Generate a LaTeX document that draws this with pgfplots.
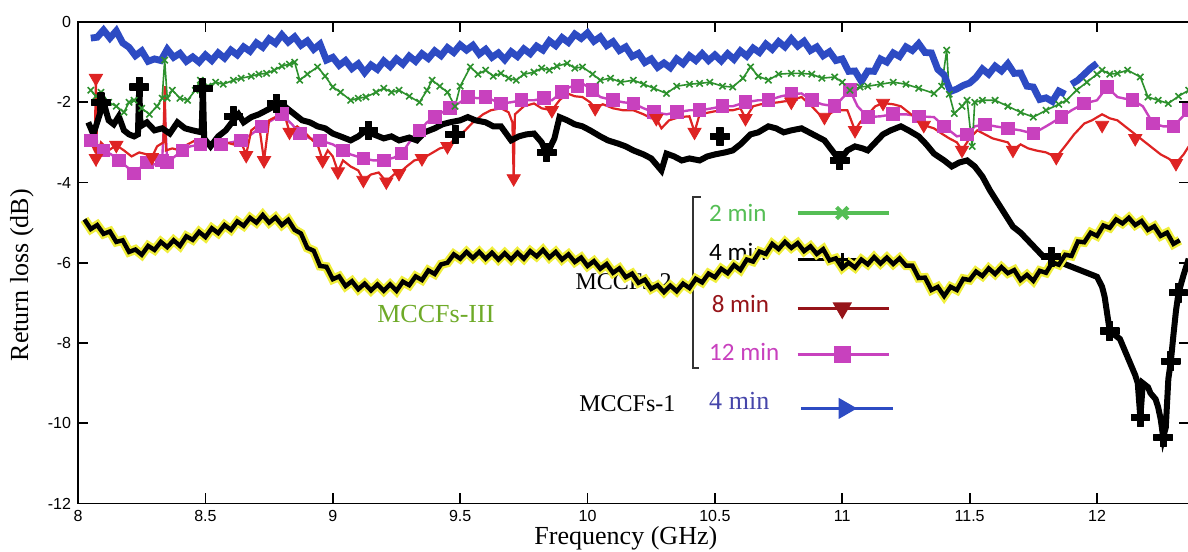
\documentclass[border=0pt]{standalone}
\usepackage{fontspec}
\setmainfont{Liberation Serif}
\newfontfamily\arialf{Liberation Sans}
\newfontfamily\calib{Carlito}
\usepackage{pgfplots}
\pgfplotsset{compat=1.18}
\definecolor{cBlue}{RGB}{45,75,195}
\definecolor{cGreen}{RGB}{45,145,45}
\definecolor{cLGreen}{RGB}{85,190,85}
\definecolor{cRed}{RGB}{222,35,35}
\definecolor{cDRed}{RGB}{150,20,25}
\definecolor{cMag}{RGB}{200,65,190}
\definecolor{cYel}{RGB}{240,238,60}
\definecolor{cOlive}{RGB}{110,170,40}
\definecolor{cLBlue}{RGB}{70,70,170}

% filled, fat plus used for the 4 min (MCCFs-2) markers
\pgfdeclareplotmark{fatplus}{%
  \pgfpathmoveto{\pgfqpoint{-0.32\pgfplotmarksize}{\pgfplotmarksize}}%
  \pgfpathlineto{\pgfqpoint{0.32\pgfplotmarksize}{\pgfplotmarksize}}%
  \pgfpathlineto{\pgfqpoint{0.32\pgfplotmarksize}{0.32\pgfplotmarksize}}%
  \pgfpathlineto{\pgfqpoint{\pgfplotmarksize}{0.32\pgfplotmarksize}}%
  \pgfpathlineto{\pgfqpoint{\pgfplotmarksize}{-0.32\pgfplotmarksize}}%
  \pgfpathlineto{\pgfqpoint{0.32\pgfplotmarksize}{-0.32\pgfplotmarksize}}%
  \pgfpathlineto{\pgfqpoint{0.32\pgfplotmarksize}{-\pgfplotmarksize}}%
  \pgfpathlineto{\pgfqpoint{-0.32\pgfplotmarksize}{-\pgfplotmarksize}}%
  \pgfpathlineto{\pgfqpoint{-0.32\pgfplotmarksize}{-0.32\pgfplotmarksize}}%
  \pgfpathlineto{\pgfqpoint{-\pgfplotmarksize}{-0.32\pgfplotmarksize}}%
  \pgfpathlineto{\pgfqpoint{-\pgfplotmarksize}{0.32\pgfplotmarksize}}%
  \pgfpathlineto{\pgfqpoint{-0.32\pgfplotmarksize}{0.32\pgfplotmarksize}}%
  \pgfpathclose
  \pgfusepathqfillstroke
}

\begin{document}
\begin{tikzpicture}
\begin{axis}[
  scale only axis, width=555pt, height=240.5pt,
  xmin=8, xmax=12.362, ymin=-12, ymax=0,
  xtick={8,8.5,9,9.5,10,10.5,11,11.5,12},
  xticklabels={8,8.5,9,9.5,10,10.5,11,11.5,12},
  ytick={-12,-10,-8,-6,-4,-2,0},
  yticklabels={-12,-10,-8,-6,-4,-2,0},
  tick align=inside, major tick length=5pt,
  axis line style={line width=0.9pt},
  tick style={line width=0.9pt, black},
  ticklabel style={font=\arialf\fontsize{8}{9}\selectfont},
  xlabel={Frequency (GHz)}, ylabel={Return loss (dB)},
  label style={font=\fontsize{13}{15}\selectfont},
  xlabel style={at={(axis description cs:0.493,-0.073)}, anchor=center},
  ylabel style={at={(axis description cs:-0.0505,0.474)}, anchor=center},
]

% 12 min
\addplot[cMag, line width=1.2pt, mark=square*, mark size=2.8pt, mark repeat=2] coordinates {
(8.05,-2.95) (8.08,-3.1) (8.1,-3.2) (8.13,-3.3) (8.16,-3.45) (8.19,-3.6) (8.22,-3.78) (8.25,-3.6)
(8.27,-3.5) (8.3,-3.55) (8.33,-3.45) (8.34,-2.2) (8.35,-3.5) (8.38,-3.35) (8.41,-3.2) (8.44,-3.1)
(8.48,-3.05) (8.52,-3.1) (8.56,-3.05) (8.6,-3.0) (8.64,-2.95) (8.68,-2.8) (8.72,-2.6) (8.76,-2.45)
(8.8,-2.3) (8.84,-2.55) (8.87,-2.78) (8.91,-2.9) (8.95,-2.95) (9.0,-3.05) (9.04,-3.2) (9.07,-3.3)
(9.12,-3.4) (9.16,-3.45) (9.2,-3.45) (9.24,-3.38) (9.27,-3.28) (9.3,-3.0) (9.34,-2.7) (9.37,-2.5)
(9.4,-2.37) (9.43,-2.25) (9.46,-2.15) (9.5,-2.0) (9.53,-1.87) (9.57,-1.9) (9.6,-1.87) (9.63,-1.95)
(9.66,-2.03) (9.7,-2.0) (9.74,-1.95) (9.79,-1.95) (9.83,-1.9) (9.86,-1.95) (9.9,-1.75) (9.93,-1.62)
(9.96,-1.6) (9.98,-1.53) (10.02,-1.7) (10.05,-1.87) (10.1,-1.95) (10.14,-2.0) (10.18,-2.03) (10.22,-2.15)
(10.26,-2.25) (10.31,-2.3) (10.35,-2.25) (10.4,-2.2) (10.44,-2.2) (10.49,-2.15) (10.53,-2.1) (10.57,-2.1)
(10.62,-2.0) (10.67,-1.95) (10.71,-1.95) (10.76,-1.85) (10.8,-1.8) (10.84,-1.78) (10.88,-1.95) (10.92,-2.05)
(10.97,-2.1) (11.0,-1.9) (11.03,-1.7) (11.06,-2.1) (11.1,-2.37) (11.15,-2.35) (11.2,-2.3) (11.25,-2.3)
(11.3,-2.35) (11.36,-2.37) (11.4,-2.6) (11.45,-2.85) (11.49,-2.8) (11.52,-2.6) (11.56,-2.55) (11.6,-2.6)
(11.65,-2.65) (11.7,-2.7) (11.75,-2.78) (11.8,-2.6) (11.86,-2.37) (11.9,-2.2) (11.95,-2.03) (12.0,-1.95)
(12.04,-1.62) (12.08,-1.87) (12.14,-1.95) (12.18,-2.1) (12.22,-2.53) (12.26,-2.6) (12.3,-2.6) (12.33,-2.4)
(12.36,-2.2)
};

% 8 min
\addplot[cRed, line width=1.1pt] coordinates {
(8.05,-3.0) (8.065,-3.2) (8.07,-1.4) (8.075,-3.4) (8.09,-3.0) (8.12,-3.2) (8.15,-3.07) (8.18,-3.2)
(8.21,-3.35) (8.24,-3.25) (8.27,-3.3) (8.29,-3.37) (8.31,-3.1) (8.335,-3.0) (8.34,-1.6) (8.345,-3.2)
(8.37,-3.15) (8.4,-3.2) (8.43,-3.05) (8.46,-2.95) (8.49,-2.9) (8.52,-3.05) (8.55,-3.1) (8.58,-3.0)
(8.61,-3.05) (8.63,-2.85) (8.66,-3.3) (8.68,-2.7) (8.71,-2.55) (8.73,-3.45) (8.75,-2.45) (8.78,-2.35)
(8.81,-2.3) (8.83,-2.74) (8.86,-2.6) (8.89,-2.75) (8.92,-2.95) (8.94,-3.05) (8.96,-3.45) (8.98,-3.2)
(9.0,-3.35) (9.02,-3.73) (9.04,-3.45) (9.07,-3.6) (9.1,-3.7) (9.12,-3.94) (9.15,-3.8) (9.18,-3.75)
(9.21,-3.98) (9.24,-3.8) (9.26,-3.77) (9.29,-3.6) (9.32,-3.45) (9.35,-3.4) (9.38,-3.3) (9.42,-3.15)
(9.45,-3.1) (9.48,-2.9) (9.52,-2.7) (9.55,-2.5) (9.59,-2.3) (9.62,-2.2) (9.66,-2.15) (9.69,-2.25)
(9.705,-2.5) (9.71,-3.9) (9.715,-2.3) (9.75,-2.1) (9.79,-2.03) (9.82,-2.15) (9.86,-2.2) (9.89,-1.95)
(9.92,-1.78) (9.95,-1.85) (9.98,-1.87) (10.01,-2.0) (10.03,-2.15) (10.06,-2.05) (10.1,-2.15) (10.14,-2.2)
(10.18,-2.2) (10.22,-2.3) (10.25,-2.4) (10.27,-2.4) (10.29,-2.65) (10.32,-2.45) (10.36,-2.37) (10.4,-2.35)
(10.42,-2.74) (10.44,-2.3) (10.48,-2.25) (10.52,-2.2) (10.57,-2.2) (10.6,-2.15) (10.62,-2.4) (10.65,-2.1)
(10.68,-2.05) (10.71,-2.03) (10.75,-2.0) (10.8,-1.95) (10.84,-1.87) (10.88,-2.1) (10.91,-2.3) (10.93,-2.37)
(10.96,-2.25) (10.99,-2.2) (11.02,-2.2) (11.05,-2.7) (11.07,-2.5) (11.1,-2.3) (11.13,-2.1) (11.16,-2.02)
(11.2,-2.05) (11.23,-2.1) (11.27,-2.3) (11.3,-2.45) (11.32,-2.57) (11.36,-2.65) (11.39,-2.78) (11.42,-2.9)
(11.45,-3.0) (11.47,-3.19) (11.5,-2.9) (11.53,-2.7) (11.56,-2.8) (11.59,-2.9) (11.62,-2.95) (11.65,-3.0)
(11.67,-3.19) (11.7,-3.05) (11.73,-3.15) (11.76,-3.2) (11.8,-3.25) (11.84,-3.37) (11.88,-3.05) (11.91,-2.8)
(11.95,-2.53) (11.98,-2.45) (12.02,-2.3) (12.05,-2.4) (12.08,-2.45) (12.11,-2.6) (12.15,-2.8) (12.18,-2.95)
(12.21,-3.1) (12.25,-3.3) (12.28,-3.4) (12.31,-3.52) (12.34,-3.3) (12.36,-3.1)
};
\addplot[only marks, cRed, mark=triangle*, mark size=3.8pt, mark options={rotate=180}] coordinates {
(8.07,-1.4) (8.07,-3.4) (8.15,-3.07) (8.29,-3.37) (8.66,-3.32) (8.73,-3.45) (8.83,-2.74) (8.96,-3.45)
(9.02,-3.73) (9.12,-3.94) (9.21,-3.98) (9.26,-3.77) (9.35,-3.4) (9.45,-3.1) (9.71,-3.9) (9.86,-2.2)
(10.03,-2.15) (10.27,-2.4) (10.42,-2.74) (10.62,-2.4) (10.8,-1.99) (10.93,-2.37) (11.05,-2.7) (11.16,-2.02)
(11.32,-2.57) (11.47,-3.19) (11.67,-3.19) (11.84,-3.37) (12.02,-2.57) (12.15,-2.9) (12.31,-3.52)
};

% 2 min
\addplot[cGreen, line width=0.8pt, mark=x, mark size=2.2pt] coordinates {
(8.05,-1.7) (8.07,-1.85) (8.09,-1.75) (8.12,-2.0) (8.15,-2.1) (8.18,-2.25) (8.2,-2.0) (8.22,-1.95)
(8.25,-2.15) (8.28,-2.3) (8.31,-2.1) (8.33,-1.9) (8.34,-0.95) (8.35,-1.9) (8.37,-1.7) (8.4,-1.9)
(8.43,-1.95) (8.46,-1.7) (8.48,-1.45) (8.51,-1.6) (8.54,-1.5) (8.57,-1.55) (8.61,-1.45) (8.64,-1.4)
(8.68,-1.35) (8.71,-1.3) (8.74,-1.28) (8.77,-1.2) (8.8,-1.1) (8.83,-1.05) (8.85,-1.0) (8.87,-1.45)
(8.9,-1.3) (8.94,-1.12) (8.97,-1.35) (9.0,-1.62) (9.03,-1.75) (9.07,-1.95) (9.1,-1.9) (9.13,-1.87)
(9.17,-1.75) (9.2,-1.65) (9.23,-1.75) (9.26,-1.7) (9.3,-1.85) (9.34,-2.0) (9.37,-1.7) (9.39,-1.45)
(9.42,-1.6) (9.45,-1.75) (9.48,-2.1) (9.5,-1.6) (9.54,-1.12) (9.57,-1.3) (9.6,-1.2) (9.63,-1.35)
(9.66,-1.28) (9.69,-1.4) (9.72,-1.45) (9.75,-1.3) (9.79,-1.25) (9.82,-1.15) (9.85,-1.2) (9.88,-1.1)
(9.92,-1.03) (9.95,-1.15) (9.98,-1.12) (10.02,-1.3) (10.05,-1.45) (10.09,-1.4) (10.13,-1.5) (10.18,-1.45)
(10.22,-1.55) (10.26,-1.65) (10.31,-1.78) (10.35,-1.6) (10.4,-1.55) (10.44,-1.53) (10.48,-1.5) (10.53,-1.6)
(10.57,-1.62) (10.61,-1.4) (10.64,-1.12) (10.67,-1.35) (10.71,-1.45) (10.75,-1.3) (10.8,-1.28) (10.84,-1.28)
(10.88,-1.3) (10.92,-1.4) (10.97,-1.37) (11.0,-1.5) (11.03,-1.7) (11.07,-1.62) (11.1,-1.6) (11.15,-1.55)
(11.2,-1.5) (11.25,-1.55) (11.3,-1.65) (11.36,-1.78) (11.39,-1.6) (11.41,-0.7) (11.42,-1.8) (11.44,-2.28)
(11.47,-2.1) (11.49,-1.95) (11.51,-3.1) (11.52,-2.0) (11.55,-1.95) (11.6,-1.95) (11.65,-2.1) (11.7,-2.25)
(11.75,-2.37) (11.8,-2.2) (11.85,-2.05) (11.88,-1.95) (11.92,-1.7) (11.96,-1.5) (12.0,-1.3) (12.02,-1.2)
(12.05,-1.3) (12.08,-1.28) (12.12,-1.2) (12.17,-1.37) (12.2,-1.87) (12.24,-1.95) (12.28,-2.03) (12.32,-1.85)
(12.36,-1.7)
};

% MCCFs-1, 4 min
\addplot[cBlue, line width=3.4pt] coordinates {
(8.050,-0.40) (8.075,-0.38) (8.100,-0.20) (8.125,-0.40) (8.150,-0.22) (8.175,-0.52) (8.200,-0.63) (8.225,-0.84)
(8.250,-0.72) (8.275,-0.98) (8.300,-0.92) (8.325,-0.96) (8.350,-0.68) (8.375,-0.88) (8.400,-0.78) (8.425,-0.98)
(8.450,-0.87) (8.475,-1.00) (8.500,-0.82) (8.525,-0.96) (8.550,-0.77) (8.575,-0.90) (8.600,-0.70) (8.625,-0.82)
(8.650,-0.62) (8.675,-0.73) (8.700,-0.52) (8.725,-0.63) (8.750,-0.42) (8.775,-0.53) (8.800,-0.32) (8.825,-0.50)
(8.850,-0.37) (8.875,-0.58) (8.900,-0.47) (8.925,-0.68) (8.950,-0.55) (8.975,-0.95) (9.000,-0.88) (9.025,-1.08)
(9.050,-0.96) (9.075,-1.16) (9.100,-1.04) (9.125,-1.26) (9.150,-1.07) (9.175,-1.18) (9.200,-0.97) (9.225,-1.11)
(9.250,-0.92) (9.275,-1.05) (9.300,-0.85) (9.325,-0.98) (9.350,-0.79) (9.375,-0.91) (9.400,-0.72) (9.425,-0.84)
(9.450,-0.64) (9.475,-0.76) (9.500,-0.57) (9.525,-0.70) (9.550,-0.58) (9.575,-0.80) (9.600,-0.68) (9.625,-0.88)
(9.650,-0.77) (9.675,-0.94) (9.700,-0.74) (9.725,-0.86) (9.750,-0.67) (9.775,-0.79) (9.800,-0.60) (9.825,-0.70)
(9.850,-0.47) (9.875,-0.59) (9.900,-0.39) (9.925,-0.51) (9.950,-0.30) (9.975,-0.41) (10.000,-0.27) (10.025,-0.48)
(10.050,-0.37) (10.075,-0.59) (10.100,-0.49) (10.125,-0.71) (10.150,-0.62) (10.175,-0.86) (10.200,-0.78) (10.225,-1.01)
(10.250,-0.92) (10.275,-1.13) (10.300,-1.02) (10.325,-1.14) (10.350,-0.92) (10.375,-1.04) (10.400,-0.84) (10.425,-0.96)
(10.450,-0.79) (10.475,-0.96) (10.500,-0.82) (10.525,-0.97) (10.550,-0.79) (10.575,-0.93) (10.600,-0.72) (10.625,-0.85)
(10.650,-0.65) (10.675,-0.76) (10.700,-0.55) (10.725,-0.68) (10.750,-0.49) (10.775,-0.62) (10.800,-0.42) (10.825,-0.60)
(10.850,-0.48) (10.875,-0.71) (10.900,-0.62) (10.925,-0.84) (10.950,-0.74) (10.975,-0.96) (11.000,-0.92) (11.025,-1.23)
(11.050,-1.22) (11.075,-1.48) (11.100,-1.22) (11.125,-1.23) (11.150,-0.92) (11.175,-1.00) (11.200,-0.77) (11.225,-0.86)
(11.250,-0.62) (11.275,-0.71) (11.300,-0.54) (11.325,-0.76) (11.350,-0.77) (11.375,-1.18) (11.400,-1.32) (11.425,-1.73)
(11.450,-1.67) (11.475,-1.58) (11.500,-1.52) (11.525,-1.38) (11.550,-1.17) (11.575,-1.30) (11.600,-1.10) (11.625,-1.22)
(11.650,-1.04) (11.675,-1.28) (11.700,-1.27) (11.725,-1.60) (11.750,-1.62) (11.775,-1.93) (11.800,-1.89) (11.825,-1.98)
(11.850,-1.72) (11.875,-1.80)
};
\addplot[cBlue, line width=3.4pt] coordinates {
(11.900,-1.55) (11.925,-1.45) (11.950,-1.30) (11.975,-1.15) (12.000,-1.03)
};

% MCCFs-2, 4 min
\addplot[black, line width=3pt] coordinates {
(8.04,-2.5) (8.06,-2.8) (8.08,-2.4) (8.1,-2.0) (8.12,-2.45) (8.14,-2.55) (8.16,-2.35) (8.18,-2.7)
(8.2,-2.8) (8.22,-2.85) (8.235,-2.8) (8.24,-1.62) (8.245,-2.6) (8.27,-2.5) (8.3,-2.7) (8.33,-2.65)
(8.36,-2.78) (8.39,-2.5) (8.42,-2.65) (8.45,-2.7) (8.485,-2.75) (8.49,-1.65) (8.495,-2.9) (8.52,-3.1)
(8.55,-2.85) (8.58,-2.7) (8.61,-2.45) (8.63,-2.3) (8.65,-2.5) (8.68,-2.37) (8.71,-2.3) (8.74,-2.2)
(8.77,-2.1) (8.8,-2.05) (8.83,-2.2) (8.86,-2.35) (8.88,-2.45) (8.91,-2.5) (8.94,-2.6) (8.97,-2.65)
(9.0,-2.78) (9.03,-2.85) (9.07,-2.95) (9.1,-2.85) (9.13,-2.7) (9.16,-2.8) (9.2,-2.9) (9.23,-2.85)
(9.26,-2.95) (9.3,-2.88) (9.33,-2.95) (9.36,-2.75) (9.4,-2.65) (9.43,-2.55) (9.46,-2.5) (9.5,-2.45)
(9.53,-2.37) (9.56,-2.45) (9.6,-2.5) (9.63,-2.6) (9.66,-2.6) (9.7,-2.95) (9.73,-2.85) (9.76,-2.8)
(9.79,-2.78) (9.82,-3.0) (9.84,-3.3) (9.87,-2.9) (9.89,-2.37) (9.92,-2.45) (9.95,-2.55) (9.98,-2.6)
(10.01,-2.7) (10.05,-2.85) (10.08,-2.95) (10.12,-3.03) (10.15,-3.1) (10.18,-3.2) (10.22,-3.3) (10.25,-3.4)
(10.27,-3.55) (10.29,-3.7) (10.31,-3.28) (10.34,-3.35) (10.37,-3.45) (10.4,-3.4) (10.44,-3.45) (10.47,-3.35)
(10.5,-3.3) (10.54,-3.25) (10.57,-3.2) (10.6,-3.05) (10.64,-2.8) (10.67,-2.75) (10.71,-2.6) (10.74,-2.65)
(10.77,-2.75) (10.8,-2.7) (10.84,-2.65) (10.87,-2.75) (10.9,-2.85) (10.93,-2.95) (10.96,-3.2) (10.99,-3.45)
(11.02,-3.2) (11.05,-3.1) (11.08,-3.15) (11.1,-3.2) (11.13,-3.0) (11.16,-2.8) (11.19,-2.7) (11.23,-2.6)
(11.26,-2.7) (11.3,-2.85) (11.33,-3.05) (11.36,-3.28) (11.4,-3.45) (11.43,-3.6) (11.46,-3.5) (11.49,-3.45)
(11.52,-3.6) (11.55,-3.85) (11.58,-4.2) (11.61,-4.5) (11.64,-4.8) (11.67,-5.1) (11.7,-5.25) (11.73,-5.45)
(11.76,-5.65) (11.79,-5.85) (11.82,-5.85) (11.86,-6.0) (11.9,-6.1) (11.94,-6.2) (11.98,-6.3) (12.0,-6.35)
(12.02,-6.6) (12.03,-6.85) (12.05,-7.7) (12.07,-7.8) (12.09,-7.9) (12.11,-8.2) (12.13,-8.5) (12.15,-8.8)
(12.16,-9.0) (12.17,-9.85) (12.18,-9.0) (12.2,-9.1) (12.21,-9.25) (12.23,-9.4) (12.24,-9.6) (12.25,-9.9)
(12.26,-10.35) (12.27,-10.1) (12.28,-8.9) (12.29,-8.45) (12.3,-7.8) (12.31,-7.2) (12.32,-6.75) (12.34,-6.3)
(12.36,-5.9)
};
\addplot[only marks, black, mark=fatplus, mark size=4.6pt, mark options={line width=0.6pt, line join=round}] coordinates {
(8.09,-2.0) (8.24,-1.62) (8.49,-1.65) (8.61,-2.35) (8.78,-2.03) (9.14,-2.7) (9.48,-2.8) (9.84,-3.25)
(10.52,-2.85) (10.99,-3.45) (11.82,-5.85) (12.05,-7.7) (12.17,-9.85) (12.26,-10.35) (12.29,-8.45)
(12.32,-6.75)
};

% legend
\draw[line width=0.8pt, black!80] (axis cs:10.445,-4.36) -- (axis cs:10.413,-4.36) -- (axis cs:10.413,-8.63) -- (axis cs:10.437,-8.63);
\node[anchor=west, text=cLGreen, font=\calib\fontsize{12.5}{14}\selectfont] at (axis cs:10.45,-4.76) {2 min};
\node[anchor=west, text=black, font=\calib\fontsize{12.5}{14}\selectfont] at (axis cs:10.45,-5.74) {4 min};
\node[anchor=west, text=cDRed, font=\calib\fontsize{12.5}{14}\selectfont] at (axis cs:10.46,-7.03) {8 min};
\node[anchor=west, text=cMag, font=\calib\fontsize{12.5}{14}\selectfont] at (axis cs:10.45,-8.23) {12 min};
\node[anchor=west, text=cLBlue, font=\fontsize{13}{15}\selectfont] at (axis cs:10.45,-9.43) {4 min};
\node[anchor=west, font=\fontsize{12}{14}\selectfont] at (axis cs:9.925,-6.48) {MCCFs-2};
\node[anchor=west, font=\fontsize{12}{14}\selectfont] at (axis cs:9.94,-9.5) {MCCFs-1};
\node[anchor=west, text=cOlive, font=\fontsize{13}{15}\selectfont] at (axis cs:9.147,-7.28) {MCCFs-III};
\addplot[cLGreen, line width=1.6pt, mark=x, mark size=4pt, mark indices={2}, mark options={line width=2pt}] coordinates {(10.825,-4.76) (11.0,-4.76) (11.183,-4.76)};
\addplot[black, line width=1.6pt, mark=+, mark size=3pt, mark indices={2}] coordinates {(10.825,-5.91) (11.0,-5.91) (11.1,-5.91)};
\addplot[cDRed, line width=1.6pt, mark=triangle*, mark size=4pt, mark indices={2}, mark options={rotate=180}] coordinates {(10.825,-7.13) (11.0,-7.13) (11.183,-7.13)};
\addplot[cMag, line width=1.6pt, mark=square*, mark size=3.5pt, mark indices={2}] coordinates {(10.825,-8.28) (11.0,-8.28) (11.183,-8.28)};
\addplot[cBlue, line width=1.6pt, mark=triangle*, mark size=4.5pt, mark indices={2}, mark options={rotate=-90}] coordinates {(10.837,-9.63) (11.01,-9.63) (11.2,-9.63)};

% MCCFs-III
\addplot[cYel, line width=4.6pt] coordinates {
(8.025,-4.92) (8.050,-5.16) (8.075,-5.06) (8.100,-5.28) (8.125,-5.22) (8.150,-5.48) (8.175,-5.44) (8.200,-5.73)
(8.225,-5.67) (8.250,-5.80) (8.275,-5.58) (8.300,-5.68) (8.325,-5.48) (8.350,-5.61) (8.375,-5.44) (8.400,-5.58)
(8.425,-5.34) (8.450,-5.43) (8.475,-5.23) (8.500,-5.36) (8.525,-5.14) (8.550,-5.26) (8.575,-5.06) (8.600,-5.18)
(8.625,-4.97) (8.650,-5.08) (8.675,-4.88) (8.700,-5.00) (8.725,-4.81) (8.750,-5.00) (8.775,-4.87) (8.800,-5.06)
(8.825,-4.93) (8.850,-5.18) (8.875,-5.27) (8.900,-5.63) (8.925,-5.70) (8.950,-6.08) (8.975,-6.10) (9.000,-6.41)
(9.025,-6.34) (9.050,-6.58) (9.075,-6.46) (9.100,-6.66) (9.125,-6.52) (9.150,-6.69) (9.175,-6.54) (9.200,-6.70)
(9.225,-6.54) (9.250,-6.70) (9.275,-6.47) (9.300,-6.56) (9.325,-6.34) (9.350,-6.43) (9.375,-6.19) (9.400,-6.28)
(9.425,-6.04) (9.450,-6.00) (9.475,-5.79) (9.500,-5.90) (9.525,-5.73) (9.550,-5.88) (9.575,-5.73) (9.600,-5.90)
(9.625,-5.75) (9.650,-5.92) (9.675,-5.76) (9.700,-5.92) (9.725,-5.75) (9.750,-5.90) (9.775,-5.71) (9.800,-5.84)
(9.825,-5.68) (9.850,-5.87) (9.875,-5.73) (9.900,-5.92) (9.925,-5.79) (9.950,-5.98) (9.975,-5.87) (10.000,-6.08)
(10.025,-5.96) (10.050,-6.15) (10.075,-6.03) (10.100,-6.25) (10.125,-6.14) (10.150,-6.36) (10.175,-6.27) (10.200,-6.50)
(10.225,-6.42) (10.250,-6.65) (10.275,-6.56) (10.300,-6.73) (10.325,-6.57) (10.350,-6.71) (10.375,-6.52) (10.400,-6.63)
(10.425,-6.40) (10.450,-6.49) (10.475,-6.27) (10.500,-6.36) (10.525,-6.15) (10.550,-6.26) (10.575,-6.06) (10.600,-6.18)
(10.625,-5.92) (10.650,-5.97) (10.675,-5.72) (10.700,-5.78) (10.725,-5.53) (10.750,-5.66) (10.775,-5.48) (10.800,-5.63)
(10.825,-5.51) (10.850,-5.71) (10.875,-5.59) (10.900,-5.78) (10.925,-5.66) (10.950,-5.94) (10.975,-5.89) (11.000,-6.13)
(11.025,-6.00) (11.050,-6.12) (11.075,-5.92) (11.100,-6.04) (11.125,-5.86) (11.150,-6.02) (11.175,-5.87) (11.200,-6.03)
(11.225,-5.89) (11.250,-6.07) (11.275,-6.07) (11.300,-6.38) (11.325,-6.37) (11.350,-6.68) (11.375,-6.60) (11.400,-6.83)
(11.425,-6.60) (11.450,-6.68) (11.475,-6.40) (11.500,-6.43) (11.525,-6.22) (11.550,-6.33) (11.575,-6.14) (11.600,-6.28)
(11.625,-6.11) (11.650,-6.26) (11.675,-6.18) (11.700,-6.43) (11.725,-6.30) (11.750,-6.45) (11.775,-6.20) (11.800,-6.25)
(11.825,-5.99) (11.850,-6.05) (11.875,-5.80) (11.900,-5.83) (11.925,-5.47) (11.950,-5.49) (11.975,-5.25) (12.000,-5.33)
(12.025,-5.07) (12.050,-5.13) (12.075,-4.92) (12.100,-5.02) (12.125,-4.88) (12.150,-5.06) (12.175,-4.96) (12.200,-5.18)
(12.225,-5.09) (12.250,-5.33) (12.275,-5.25) (12.300,-5.53) (12.325,-5.44)
};
\addplot[black, line width=2.2pt] coordinates {
(8.025,-4.92) (8.050,-5.16) (8.075,-5.06) (8.100,-5.28) (8.125,-5.22) (8.150,-5.48) (8.175,-5.44) (8.200,-5.73)
(8.225,-5.67) (8.250,-5.80) (8.275,-5.58) (8.300,-5.68) (8.325,-5.48) (8.350,-5.61) (8.375,-5.44) (8.400,-5.58)
(8.425,-5.34) (8.450,-5.43) (8.475,-5.23) (8.500,-5.36) (8.525,-5.14) (8.550,-5.26) (8.575,-5.06) (8.600,-5.18)
(8.625,-4.97) (8.650,-5.08) (8.675,-4.88) (8.700,-5.00) (8.725,-4.81) (8.750,-5.00) (8.775,-4.87) (8.800,-5.06)
(8.825,-4.93) (8.850,-5.18) (8.875,-5.27) (8.900,-5.63) (8.925,-5.70) (8.950,-6.08) (8.975,-6.10) (9.000,-6.41)
(9.025,-6.34) (9.050,-6.58) (9.075,-6.46) (9.100,-6.66) (9.125,-6.52) (9.150,-6.69) (9.175,-6.54) (9.200,-6.70)
(9.225,-6.54) (9.250,-6.70) (9.275,-6.47) (9.300,-6.56) (9.325,-6.34) (9.350,-6.43) (9.375,-6.19) (9.400,-6.28)
(9.425,-6.04) (9.450,-6.00) (9.475,-5.79) (9.500,-5.90) (9.525,-5.73) (9.550,-5.88) (9.575,-5.73) (9.600,-5.90)
(9.625,-5.75) (9.650,-5.92) (9.675,-5.76) (9.700,-5.92) (9.725,-5.75) (9.750,-5.90) (9.775,-5.71) (9.800,-5.84)
(9.825,-5.68) (9.850,-5.87) (9.875,-5.73) (9.900,-5.92) (9.925,-5.79) (9.950,-5.98) (9.975,-5.87) (10.000,-6.08)
(10.025,-5.96) (10.050,-6.15) (10.075,-6.03) (10.100,-6.25) (10.125,-6.14) (10.150,-6.36) (10.175,-6.27) (10.200,-6.50)
(10.225,-6.42) (10.250,-6.65) (10.275,-6.56) (10.300,-6.73) (10.325,-6.57) (10.350,-6.71) (10.375,-6.52) (10.400,-6.63)
(10.425,-6.40) (10.450,-6.49) (10.475,-6.27) (10.500,-6.36) (10.525,-6.15) (10.550,-6.26) (10.575,-6.06) (10.600,-6.18)
(10.625,-5.92) (10.650,-5.97) (10.675,-5.72) (10.700,-5.78) (10.725,-5.53) (10.750,-5.66) (10.775,-5.48) (10.800,-5.63)
(10.825,-5.51) (10.850,-5.71) (10.875,-5.59) (10.900,-5.78) (10.925,-5.66) (10.950,-5.94) (10.975,-5.89) (11.000,-6.13)
(11.025,-6.00) (11.050,-6.12) (11.075,-5.92) (11.100,-6.04) (11.125,-5.86) (11.150,-6.02) (11.175,-5.87) (11.200,-6.03)
(11.225,-5.89) (11.250,-6.07) (11.275,-6.07) (11.300,-6.38) (11.325,-6.37) (11.350,-6.68) (11.375,-6.60) (11.400,-6.83)
(11.425,-6.60) (11.450,-6.68) (11.475,-6.40) (11.500,-6.43) (11.525,-6.22) (11.550,-6.33) (11.575,-6.14) (11.600,-6.28)
(11.625,-6.11) (11.650,-6.26) (11.675,-6.18) (11.700,-6.43) (11.725,-6.30) (11.750,-6.45) (11.775,-6.20) (11.800,-6.25)
(11.825,-5.99) (11.850,-6.05) (11.875,-5.80) (11.900,-5.83) (11.925,-5.47) (11.950,-5.49) (11.975,-5.25) (12.000,-5.33)
(12.025,-5.07) (12.050,-5.13) (12.075,-4.92) (12.100,-5.02) (12.125,-4.88) (12.150,-5.06) (12.175,-4.96) (12.200,-5.18)
(12.225,-5.09) (12.250,-5.33) (12.275,-5.25) (12.300,-5.53) (12.325,-5.44)
};
\end{axis}
\pgfresetboundingbox
\path[use as bounding box] ([shift={(-39pt,-24pt)}]current axis.south west) rectangle ([shift={(-0.6pt,11pt)}]current axis.north east);
\end{tikzpicture}
\end{document}
